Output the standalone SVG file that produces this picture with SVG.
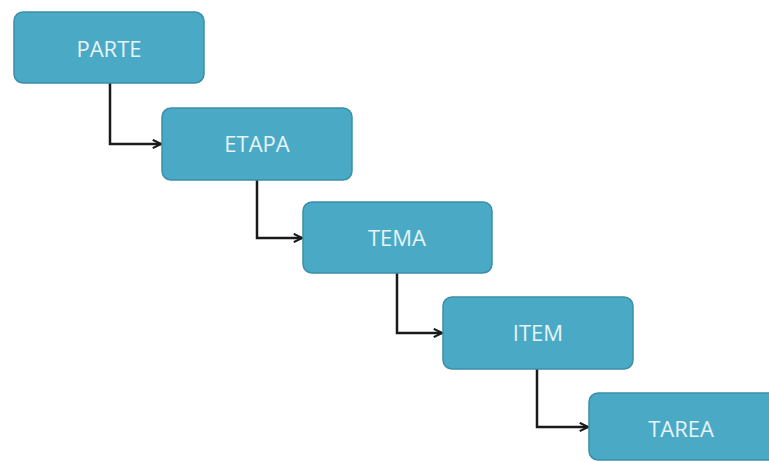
<svg xmlns="http://www.w3.org/2000/svg" width="769" height="462" viewBox="0 0 769 462">
<defs>
<marker id="arr" viewBox="0 0 12 12" refX="10.5" refY="6" markerWidth="4.4" markerHeight="4.4" orient="auto" markerUnits="strokeWidth">
<path d="M1.5,1.5 L10.5,6 L1.5,10.5" fill="none" stroke="#1a1a1a" stroke-width="2.4"/>
</marker>
</defs>
<style>
.box{fill:#4aaac6;stroke:#3b8fa8;stroke-width:1.5}
.lbl{font-family:"Open Sans","Liberation Sans",Arial,sans-serif;font-size:22px;fill:#e6f4f8;text-anchor:middle}
.con{fill:none;stroke:#1a1a1a;stroke-width:2.5;marker-end:url(#arr)}
</style>
<rect width="769" height="462" fill="#ffffff"/>
<g id="connectors">
<path class="con" d="M110,83 V144 H161"/>
<path class="con" d="M257,180 V238 H302"/>
<path class="con" d="M397,273 V333 H442"/>
<path class="con" d="M537,369 V427 H588"/>
</g>
<g id="parte"><rect class="box" x="14" y="12" width="190" height="71" rx="9"/><text class="lbl" x="109" y="57">PARTE</text></g>
<g id="etapa"><rect class="box" x="162" y="108" width="190" height="72" rx="9"/><text class="lbl" x="257" y="152">ETAPA</text></g>
<g id="tema"><rect class="box" x="303" y="202" width="189" height="71" rx="9"/><text class="lbl" x="397" y="246">TEMA</text></g>
<g id="item"><rect class="box" x="443" y="297" width="190" height="72" rx="9"/><text class="lbl" x="538" y="341">ITEM</text></g>
<g id="tarea"><rect class="box" x="589" y="393" width="190" height="67" rx="9"/><text class="lbl" x="681" y="437">TAREA</text></g>
</svg>
